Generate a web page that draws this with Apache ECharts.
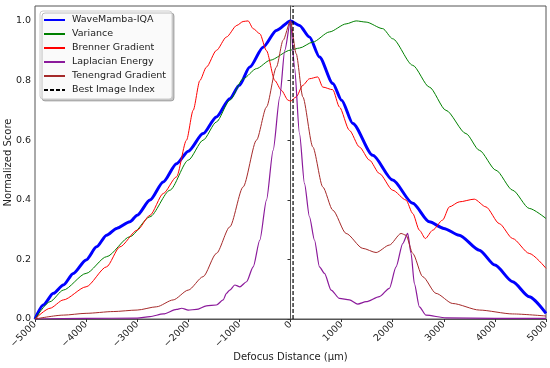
<!DOCTYPE html>
<html>
<head>
<meta charset="utf-8">
<script src="https://cdn.jsdelivr.net/npm/echarts@6/dist/echarts.min.js"></script>
<style>html,body{margin:0;padding:0;background:#fff}#c{width:550px;height:368px}</style>
</head>
<body>
<div id="c"></div>
<script>
const xTicks = [-5000,-4000,-3000,-2000,-1000,0,1000,2000,3000,4000,5000];
const yTicks = [0,0.2,0.4,0.6,0.8,1.0];
const bestIndex = 50;

const waveX = [-5000,-4837,-4640,-4446,-4250,-4000,-3794,-3600,-3403,-3143,-3000,-2750,-2490,-2230,-2000,-1710,-1450,-1188,-1000,-797,-536,-276,0,176,371,567,828,1000,1219,1610,2000,2392,2717,3000,3300,3695,4000,4347,4672,5000];
const waveY = [0,0.047,0.086,0.114,0.153,0.198,0.242,0.281,0.304,0.326,0.348,0.399,0.46,0.521,0.563,0.622,0.678,0.739,0.784,0.845,0.912,0.968,1.0,0.985,0.946,0.879,0.79,0.734,0.656,0.549,0.466,0.388,0.326,0.304,0.281,0.231,0.181,0.125,0.075,0.019];

const varX = [-5000,-4707,-4446,-4000,-3600,-3143,-2750,-2360,-2000,-1710,-1450,-1188,-927,-665,-400,0,176,437,762,1088,1284,1480,1805,2000,2392,2717,3043,3434,3695,4021,4347,4672,5000];
const varY = [0,0.058,0.097,0.153,0.209,0.276,0.343,0.432,0.533,0.6,0.661,0.734,0.806,0.84,0.868,0.902,0.909,0.929,0.963,0.99,1.0,0.996,0.974,0.94,0.851,0.778,0.7,0.622,0.566,0.499,0.432,0.371,0.337];

const brenX = [-5000,-4707,-4446,-4000,-3600,-3338,-3000,-2750,-2490,-2230,-2035,-1905,-1774,-1645,-1450,-1253,-1050,-927,-830,-730,-600,-470,-307,-178,-47,0,111,241,371,534,632,828,958,1153,1349,1545,1740,2000,2261,2392,2522,2639,2783,2978,3108,3304,3597,3825,4086,4347,4672,5000];
const brenY = [0,0.036,0.064,0.108,0.175,0.242,0.298,0.348,0.421,0.477,0.6,0.7,0.8,0.845,0.901,0.946,0.985,0.998,1.0,0.974,0.957,0.9,0.8,0.767,0.734,0.731,0.745,0.784,0.806,0.812,0.778,0.769,0.711,0.633,0.577,0.533,0.488,0.432,0.399,0.354,0.298,0.27,0.298,0.332,0.376,0.393,0.402,0.376,0.32,0.27,0.22,0.17];

const lapX = [-5000,-4000,-3000,-2750,-2490,-2230,-2130,-2000,-1840,-1645,-1450,-1318,-1253,-1188,-1090,-990,-860,-730,-600,-470,-340,-210,-112,0,78,176,274,371,469,567,665,795,958,1153,1316,1480,1740,1935,2066,2196,2294,2359,2424,2522,2652,3043,4000,5000];
const lapY = [0,0.002,0.003,0.008,0.017,0.032,0.036,0.03,0.032,0.044,0.047,0.064,0.086,0.097,0.114,0.108,0.125,0.175,0.265,0.399,0.566,0.745,0.901,1.0,0.845,0.622,0.454,0.343,0.265,0.175,0.153,0.097,0.069,0.064,0.05,0.058,0.075,0.103,0.175,0.253,0.287,0.22,0.119,0.041,0.013,0.004,0.002,0.002];

const tenX = [-5000,-4446,-4000,-3469,-3000,-2620,-2296,-2000,-1710,-1450,-1188,-927,-665,-470,-276,-145,0,111,241,437,632,828,1088,1414,1675,1935,2164,2261,2392,2587,2848,3174,3695,4347,5000];
const tenY = [0,0.013,0.019,0.025,0.03,0.041,0.064,0.097,0.142,0.22,0.309,0.443,0.6,0.711,0.845,0.935,1.0,0.89,0.745,0.577,0.443,0.365,0.287,0.237,0.223,0.248,0.287,0.281,0.22,0.142,0.086,0.052,0.03,0.017,0.01];

const zip = (xs, ys) => xs.map((x, i) => [x, ys[i]]);

const chart = echarts.init(document.getElementById('c'), null, {renderer: 'canvas'});
const font = 'DejaVu Sans';
const mk = (name, xs, ys, color, width) => ({
  name, type: 'line', data: zip(xs, ys), showSymbol: false, symbol: 'none',
  smooth: 0.25, smoothMonotone: 'x',
  lineStyle: {color, width}, itemStyle: {color}, animation: false
});

chart.setOption({
  animation: false,
  grid: {left: 35, right: 4, top: 6, bottom: 49, show: true, borderColor: '#555', borderWidth: 1,
    backgroundColor: 'transparent', containLabel: false, outerBoundsMode: 'none'},
  xAxis: {
    type: 'value', min: -5000, max: 5000, interval: 1000,
    name: 'Defocus Distance (μm)', nameLocation: 'middle', nameGap: 33, nameMoveOverlap: false,
    nameTextStyle: {fontFamily: font, fontSize: 10, color: '#222'},
    axisLine: {show: true, lineStyle: {color: '#555'}},
    axisTick: {show: true, length: 3, lineStyle: {color: '#333'}},
    axisLabel: {rotate: 45, fontFamily: font, fontSize: 9.5, color: '#222', margin: 4,
      formatter: v => v < 0 ? '\u2212' + Math.abs(v) : String(v)},
    splitLine: {show: false}
  },
  yAxis: {
    type: 'value', min: 0, max: 1.05,
    name: 'Normalized Score', nameLocation: 'middle', nameGap: 22, nameMoveOverlap: false,
    nameTextStyle: {fontFamily: font, fontSize: 10, color: '#222'},
    axisLine: {show: true, lineStyle: {color: '#555'}},
    axisTick: {show: true, length: 3, lineStyle: {color: '#333'}, customValues: yTicks},
    axisLabel: {fontFamily: font, fontSize: 9.5, color: '#222', margin: 4, customValues: yTicks,
      formatter: v => v.toFixed(1)},
    splitLine: {show: false}
  },
  legend: {
    orient: 'vertical', left: 40, top: 11, padding: [4, 6, 4, 3],
    itemWidth: 21, itemHeight: 10, itemGap: 4,
    backgroundColor: 'rgba(255,255,255,0.9)', borderColor: '#ccc', borderWidth: 1, borderRadius: 3,
    shadowColor: 'rgba(0,0,0,0.25)', shadowOffsetX: 2, shadowOffsetY: 2, shadowBlur: 0,
    itemStyle: {opacity: 0},
    textStyle: {fontFamily: font, fontSize: 9.5, color: '#222', padding: [0, 0, 0, 2]},
    data: ['WaveMamba-IQA', 'Variance', 'Brenner Gradient', 'Laplacian Energy', 'Tenengrad Gradient', 'Best Image Index']
  },
  series: [
    mk('WaveMamba-IQA', waveX, waveY, '#0000ff', 3),
    mk('Variance', varX, varY, '#008000', 1),
    mk('Brenner Gradient', brenX, brenY, '#ff0000', 1),
    mk('Laplacian Energy', lapX, lapY, '#8b1a9b', 1.2),
    mk('Tenengrad Gradient', tenX, tenY, '#a52a2a', 1),
    {name: 'Best Image Index', type: 'line', data: [[bestIndex, 0], [bestIndex, 1.05]], symbol: 'none', showSymbol: false,
     lineStyle: {color: '#000', width: 1.2, type: [4, 2]}, itemStyle: {color: '#000'}, animation: false}
  ]
});
</script>
</body>
</html>
